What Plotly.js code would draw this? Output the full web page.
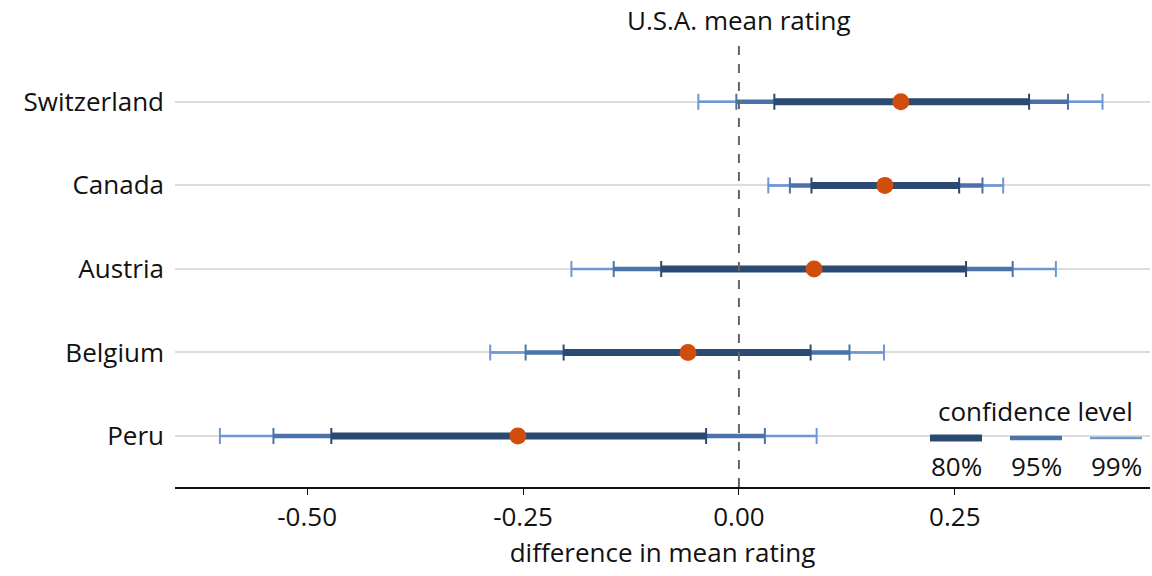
<!DOCTYPE html>
<html>
<head>
<meta charset="utf-8">
<script src="https://cdn.plot.ly/plotly-3.0.1.min.js"></script>
<style>body{margin:0}</style>
</head>
<body>
<div id="chart" style="width:1152px;height:576px"></div>
<script>
// countries bottom to top
var countries = ['Peru', 'Belgium', 'Austria', 'Canada', 'Switzerland'];
var estimate = [-0.256, -0.059, 0.087, 0.169, 0.1875];
var lo80 = [-0.472, -0.203, -0.090, 0.084, 0.041];
var hi80 = [-0.038, 0.083, 0.263, 0.255, 0.336];
var lo95 = [-0.539, -0.247, -0.145, 0.059, -0.003];
var hi95 = [0.030, 0.128, 0.317, 0.282, 0.381];
var lo99 = [-0.601, -0.288, -0.194, 0.034, -0.047];
var hi99 = [0.090, 0.168, 0.367, 0.306, 0.421];

var levels = [
    {lo: lo99, hi: hi99, color: '#6f97d1', width: 2.5},
    {lo: lo95, hi: hi95, color: '#4a73a9', width: 4.5},
    {lo: lo80, hi: hi80, color: '#2a4a72', width: 7}
];
var ys = countries.map(function (c, i) { return i; });

var data = [];
levels.forEach(function (lv) {
    var xs = [], yy = [];
    ys.forEach(function (i) {
        xs.push(lv.lo[i], lv.hi[i], null);
        yy.push(i, i, null);
    });
    data.push({x: xs, y: yy, mode: 'lines', line: {color: lv.color, width: lv.width},
        hoverinfo: 'skip', showlegend: false});
    // whisker caps
    data.push({
        x: ys.map(function (i) { return (lv.lo[i] + lv.hi[i]) / 2; }), y: ys,
        mode: 'markers', marker: {opacity: 0}, showlegend: false,
        error_x: {type: 'data', symmetric: false,
            array: ys.map(function (i) { return lv.hi[i] - (lv.lo[i] + lv.hi[i]) / 2; }),
            arrayminus: ys.map(function (i) { return (lv.lo[i] + lv.hi[i]) / 2 - lv.lo[i]; }),
            color: lv.color, thickness: 2, width: 8}
    });
});
data.push({x: estimate, y: ys, mode: 'markers', marker: {color: '#d14d0c', size: 17},
    showlegend: false});

function px(x) { return (x - 175) / 975; }
function py(y) { return (487 - y) / 447; }

var shapes = [{type: 'line', xref: 'x', yref: 'paper', x0: 0, x1: 0, y0: 0, y1: 1.0,
    line: {color: '#666', width: 2, dash: 'dash'}}];
var legendX = [[930, 982], [1010, 1062], [1090, 1142]];
var legendLab = ['80%', '95%', '99%'];
var legendCol = ['#2a4a72', '#4a73a9', '#6f97d1'];
var legendW = [7, 4.5, 2.5];
var annotations = [{x: 0, xref: 'x', y: 1.0, yref: 'paper', yanchor: 'bottom', text: 'U.S.A. mean rating',
    showarrow: false, font: {size: 26, color: '#111'}},
    {x: px(1035), y: py(411), xref: 'paper', yref: 'paper', xanchor: 'center', yanchor: 'middle',
        text: 'confidence level', showarrow: false, font: {size: 26, color: '#111'}}];
legendX.forEach(function (p, k) {
    shapes.push({type: 'line', xref: 'paper', yref: 'paper', x0: px(p[0]), x1: px(p[1]), y0: py(438), y1: py(438),
        line: {color: legendCol[k], width: legendW[k]}});
    annotations.push({x: px((p[0] + p[1]) / 2), y: py(466), xref: 'paper', yref: 'paper',
        xanchor: 'center', yanchor: 'middle', text: legendLab[k],
        showarrow: false, font: {size: 26, color: '#111'}});
});

var layout = {
    width: 1152, height: 576,
    margin: {l: 175, r: 2, t: 40, b: 89},
    paper_bgcolor: 'white', plot_bgcolor: 'white',
    font: {family: 'Open Sans, sans-serif', size: 26, color: '#111'},
    xaxis: {range: [-0.653, 0.476], tickvals: [-0.5, -0.25, 0, 0.25],
        ticktext: ['-0.50', '-0.25', '0.00', '0.25'], showgrid: false, zeroline: false,
        showline: true, linecolor: '#111', linewidth: 2, ticks: 'outside', ticklen: 6, tickcolor: '#111',
        tickfont: {size: 26},
        title: {text: 'difference in mean rating', standoff: 4, font: {size: 26}}},
    yaxis: {range: [-0.61, 4.74], tickvals: ys, ticktext: countries, showgrid: true,
        gridcolor: '#dcdcdc', gridwidth: 2, zeroline: false, ticks: '', ticklen: 0,
        tickfont: {size: 26}, ticklabelstandoff: 10},
    shapes: shapes,
    annotations: annotations
};

Plotly.newPlot(document.getElementById('chart'), data, layout, {displayModeBar: false});
</script>
</body>
</html>
